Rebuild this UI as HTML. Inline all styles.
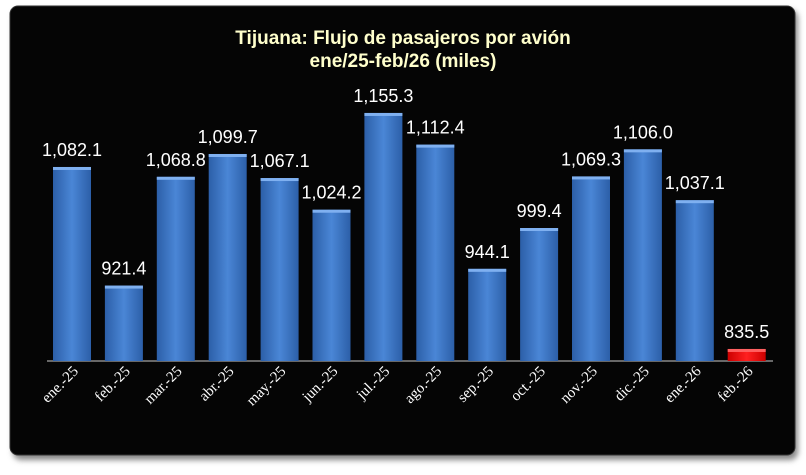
<!DOCTYPE html><html><head><style>
body{margin:0;background:#fff;width:806px;height:470px;overflow:hidden}
</style></head><body>
<svg width="806" height="470" xmlns="http://www.w3.org/2000/svg">
<defs>
<linearGradient id="b" x1="0" x2="1"><stop offset="0" stop-color="#2c5fa8"/><stop offset="0.5" stop-color="#4a86d6"/><stop offset="1" stop-color="#2c5fa8"/></linearGradient>
<linearGradient id="r" x1="0" x2="1"><stop offset="0" stop-color="#c00"/><stop offset="0.5" stop-color="#ff2020"/><stop offset="1" stop-color="#c00"/></linearGradient>
<filter id="s"><feGaussianBlur stdDeviation="3"/></filter>
</defs>
<rect x="13" y="10" width="785" height="450" rx="8" fill="#888" filter="url(#s)"/>
<rect x="10" y="6" width="785" height="449" rx="8" fill="#050505" stroke="#333"/>
<text x="403" y="44" fill="#ffffcc" font-family="Liberation Sans, sans-serif" font-weight="bold" font-size="19" text-anchor="middle">Tijuana: Flujo de pasajeros por avión</text>
<text x="403" y="67" fill="#ffffcc" font-family="Liberation Sans, sans-serif" font-weight="bold" font-size="19" text-anchor="middle">ene/25-feb/26 (miles)</text>
<line x1="47" y1="361" x2="773" y2="361" stroke="#ccc" stroke-width="1"/>
<g id="bars" font-family="Liberation Sans, sans-serif" font-size="18" fill="#fff" text-anchor="middle"></g>
<g id="lbl" font-family="Liberation Serif, serif" font-size="15" fill="#fff" text-anchor="end"></g>
</svg>
<script>
var v=[1082.1,921.4,1068.8,1099.7,1067.1,1024.2,1155.3,1112.4,944.1,999.4,1069.3,1106.0,1037.1,835.5];
var l=["ene.-25","feb.-25","mar.-25","abr.-25","may.-25","jun.-25","jul.-25","ago.-25","sep.-25","oct.-25","nov.-25","dic.-25","ene.-26","feb.-26"];
var ns="http://www.w3.org/2000/svg",g=document.getElementById("bars"),L=document.getElementById("lbl");
function el(t,a,p,txt){var e=document.createElementNS(ns,t);for(var k in a)e.setAttribute(k,a[k]);if(txt)e.textContent=txt;p.appendChild(e);}
v.forEach(function(x,i){var c=72+i*51.9,h=0.738*(x-819.2),t=361-h;
el("rect",{x:c-19,y:t,width:38,height:h,fill:i==13?"url(#r)":"url(#b)"},g);
el("rect",{x:c-19,y:t,width:38,height:3,fill:i==13?"#ff6060":"#7fb0f0"},g);
el("text",{x:c,y:t-11},g,x.toLocaleString("en-US",{minimumFractionDigits:1}));
el("text",{x:c+7,y:372,transform:"rotate(-45 "+(c+7)+" 372)"},L,l[i]);});
</script>
</body></html>
